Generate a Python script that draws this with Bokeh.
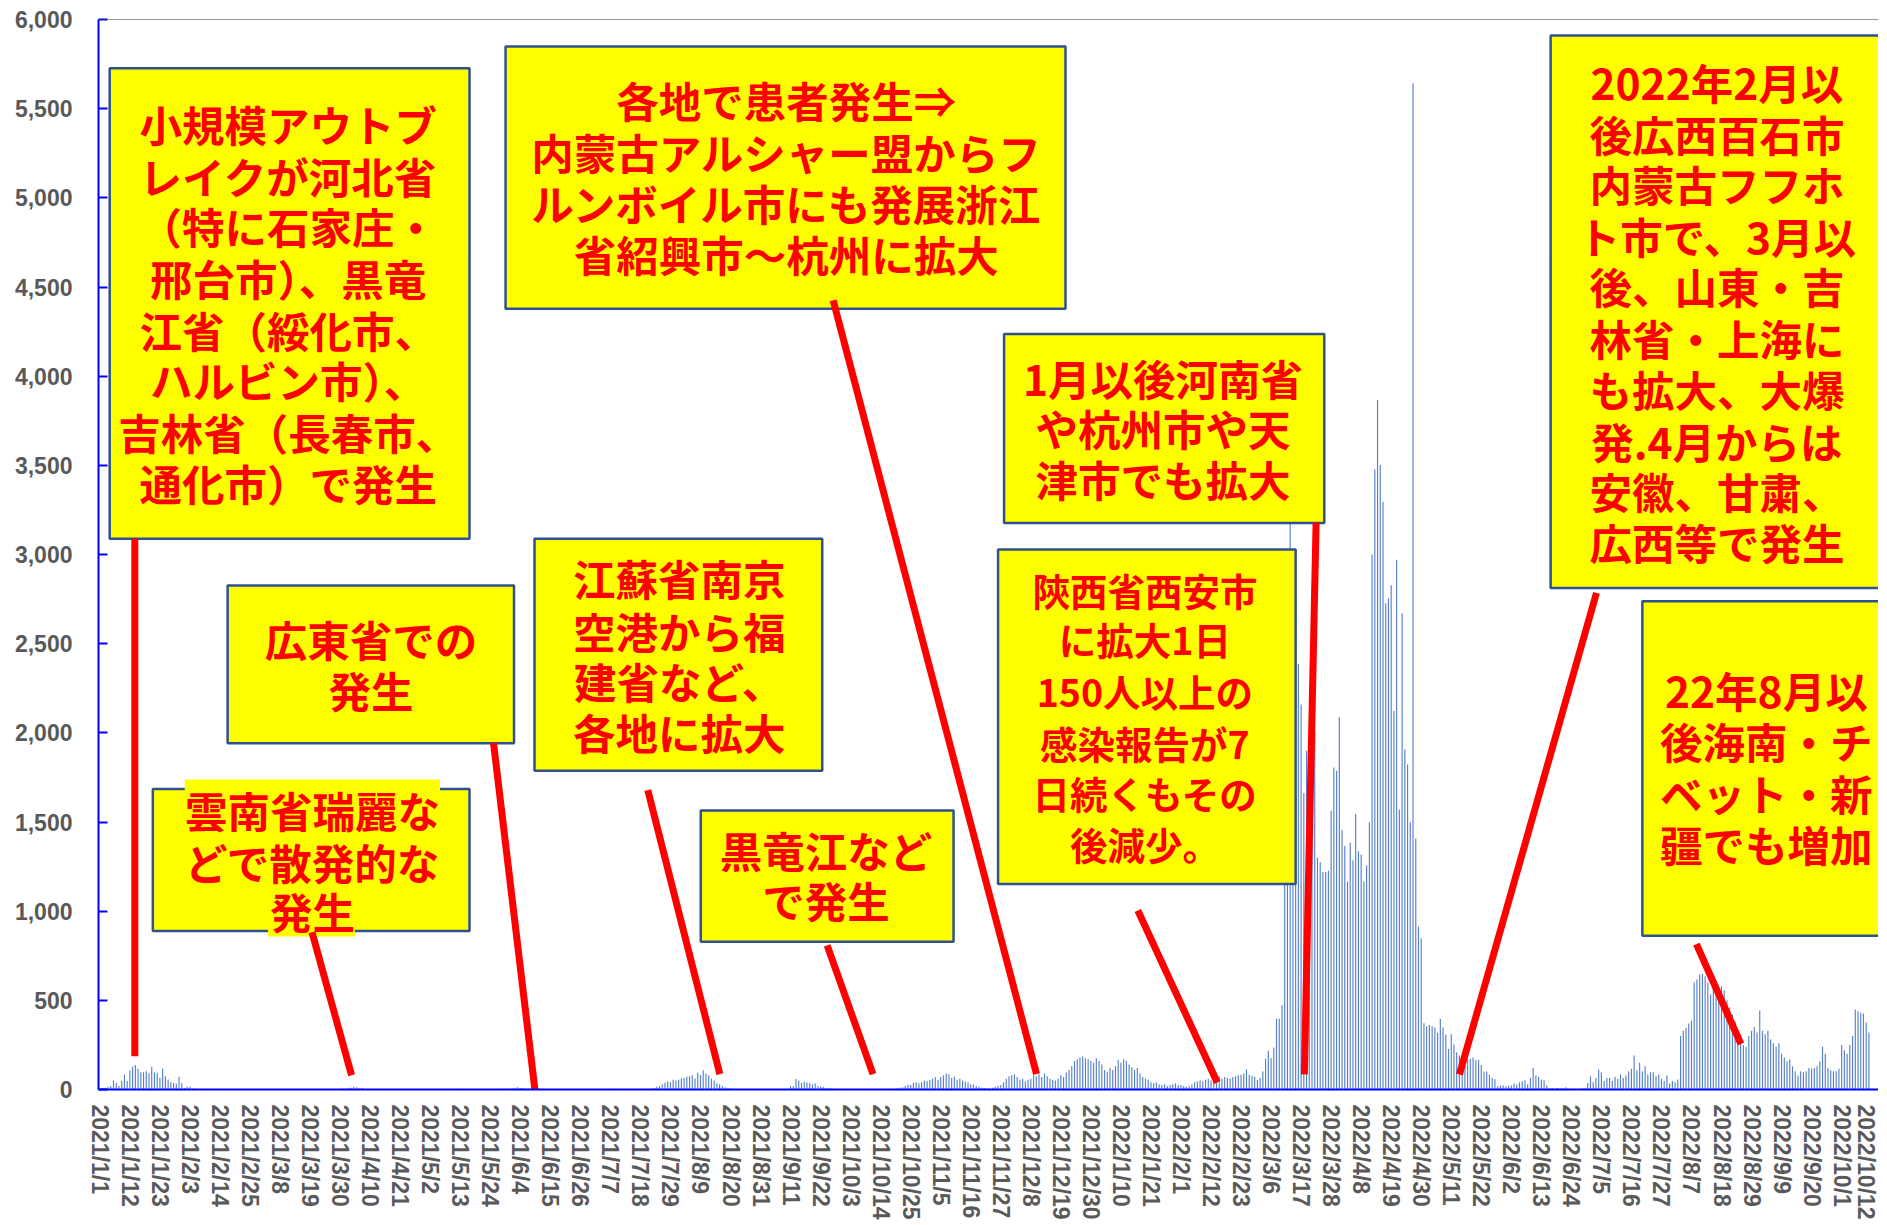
import datetime as dt
from bokeh.plotting import figure
from bokeh.models import Range1d, FixedTicker, NumeralTickFormatter, Span
from bokeh.core.properties import value
from bokeh.embed import file_html
from bokeh.resources import INLINE

# ---------------- data (daily reported cases) ----------------
start_date = dt.date(2021, 1, 1)

jan21 = [4, 7, 9, 15, 19, 50, 37, 19, 47, 84, 47, 107, 127, 137, 116, 97, 97, 103, 90, 127, 97, 94, 65, 118, 75, 56, 41, 37, 34, 71, 37]
feb21 = [9, 15, 15, 6, 4, 2, 1, 0, 1, 0, 1, 0, 0, 0, 0, 0, 0, 0, 0, 0, 0, 0, 0, 0, 0, 0, 0, 0]
mar21 = [0, 0, 0, 0, 0, 0, 0, 0, 0, 0, 0, 0, 0, 0, 1, 0, 0, 0, 0, 0, 0, 0, 0, 0, 0, 0, 0, 0, 0, 4, 5]
apr21 = [6, 8, 10, 15, 12, 5, 8, 3, 2, 3, 2, 1, 1, 1, 0, 0, 0, 0, 0, 0, 0, 0, 0, 0, 0, 0, 0, 0, 0, 0]
may21 = [0, 0, 0, 0, 0, 0, 0, 0, 0, 0, 0, 0, 3, 4, 3, 2, 0, 0, 0, 0, 1, 2, 3, 3, 1, 2, 3, 5, 4, 6, 3]
jun21 = [6, 10, 12, 9, 8, 6, 5, 4, 7, 6, 5, 4, 3, 3, 2, 2, 2, 1, 3, 2, 2, 3, 2, 1, 1, 2, 3, 2, 1, 2]
jul21 = [1, 2, 1, 2, 3, 2, 4, 3, 2, 1, 1, 0, 1, 2, 1, 1, 1, 2, 1, 1, 3, 5, 8, 15, 20, 30, 38, 45, 40, 55, 50]
aug21 = [55, 61, 65, 71, 75, 80, 62, 94, 81, 108, 90, 80, 60, 50, 35, 30, 20, 12, 10, 6, 4, 3, 2, 1, 0, 0, 0, 1, 0, 0, 0]
sep21 = [0, 0, 0, 0, 0, 0, 0, 0, 0, 1, 19, 20, 59, 50, 36, 45, 40, 35, 30, 34, 20, 18, 15, 10, 8, 6, 5, 3, 2, 1]
oct21 = [1, 0, 0, 0, 0, 0, 0, 0, 0, 0, 0, 0, 0, 0, 0, 0, 1, 3, 4, 6, 10, 13, 20, 28, 25, 38, 40, 35, 40, 50, 48]
nov21 = [53, 60, 68, 55, 70, 80, 90, 85, 65, 72, 55, 60, 50, 45, 40, 30, 28, 20, 15, 10, 8, 5, 6, 10, 15, 20, 25, 40, 60, 75]
dec21 = [80, 85, 70, 55, 60, 45, 55, 60, 80, 75, 85, 70, 90, 75, 60, 55, 50, 60, 80, 70, 95, 110, 130, 160, 170, 180, 185, 175, 170, 160, 150]
jan22 = [175, 160, 140, 110, 100, 120, 110, 130, 165, 150, 170, 160, 140, 125, 110, 120, 90, 70, 60, 55, 40, 35, 40, 30, 25, 30, 20, 25, 30, 35, 25]
feb22 = [25, 20, 15, 20, 30, 40, 45, 50, 45, 55, 60, 50, 65, 70, 75, 60, 70, 65, 60, 70, 75, 80, 83, 90, 112, 83, 76, 72]
mar22 = [54, 65, 101, 173, 217, 177, 235, 397, 397, 473, 1250, 1700, 3300, 1900, 1227, 2386, 2159, 1661, 1900, 1700,
         1400, 2007, 1300, 1274, 1220, 1220, 1227, 1563, 1805, 1787, 2087]
apr22 = [1455, 1365, 1166, 1383, 1285, 1545, 1336, 1318, 1166, 1256, 1498, 3000, 3476, 3866, 3502, 3296, 2726, 2754,
         2827, 2123, 2971, 1570, 2671, 1906, 1823, 1498, 5642, 1408, 913, 848]
may22 = [372, 354, 361, 354, 347, 318, 397, 347, 307, 227, 310, 253, 209, 190, 173, 155, 173, 173, 180, 166, 166, 137,
         101, 101, 83, 65, 58, 18, 22, 22, 18]
jun22 = [21, 22, 34, 28, 41, 45, 52, 30, 65, 121, 79, 71, 56, 52, 22, 9, 9, 6, 9, 7, 9, 13, 4, 4, 4, 2, 4, 7, 9, 37]
jul22 = [75, 41, 65, 112, 97, 47, 65, 65, 47, 71, 60, 84, 65, 79, 103, 116, 190, 108, 150, 103, 131, 84, 97, 97, 75, 84,
         60, 47, 79, 34, 47]
aug22 = [41, 56, 300, 330, 345, 370, 385, 600, 617, 645, 649, 635, 600, 533, 579, 560, 540, 579, 555, 500, 460, 420,
         380, 300, 280, 250, 240, 300, 330, 350, 320]
sep22 = [443, 330, 310, 330, 280, 260, 240, 260, 200, 180, 160, 170, 131, 103, 79, 103, 97, 103, 121, 116, 121, 131,
         159, 240, 200, 121, 108, 103, 103, 116]
oct22 = [250, 220, 200, 250, 300, 449, 439, 430, 426, 376, 320, 0, 0, 0]

months = [jan21, feb21, mar21, apr21, may21, jun21, jul21, aug21, sep21, oct21, nov21, dec21,
          jan22, feb22, mar22, apr22, may22, jun22, jul22, aug22, sep22, oct22]
cases = [v for m in months for v in m]
day_index = list(range(len(cases)))
dates = [start_date + dt.timedelta(days=i) for i in day_index]

tick_step = 11
tick_positions = day_index[::tick_step]
tick_labels = {i: f"{dates[i].year}/{dates[i].month}/{dates[i].day}" for i in tick_positions}

y_ticks = [0, 500, 1000, 1500, 2000, 2500, 3000, 3500, 4000, 4500, 5000, 5500, 6000]

# ---------------- annotations (positions in axis units) ----------------
BIG = "42.5px"
SMALL = "37.5px"
notes = [
    dict(box=(3.6, 135.4, 3089, 5727), cx=69.0,
         lines=["小規模アウトブ", "レイクが河北省", "（特に石家庄・", "邢台市）、黒竜", "江省（綏化市、",
                "ハルビン市）、", "吉林省（長春市、", "通化市）で発生"],
         ys=[5417, 5127, 4843, 4553, 4263, 3980, 3690, 3406], size=BIG),
    dict(box=(46.8, 151.7, 1942, 2826), cx=99.3, lines=["広東省での", "発生"], ys=[2529, 2245], size=BIG),
    dict(box=(19.4, 135.4, 889, 1685), cx=77.9, lines=["雲南省瑞麗な", "どで散発的な", "発生"],
         ys=[1571, 1280, 1004], size=BIG),
    dict(box=(159.2, 264.6, 1787, 3089), cx=212.2, lines=["江蘇省南京", "空港から福", "建省など、", "各地に拡大"],
         ys=[2873, 2576, 2293, 2009], size=BIG),
    dict(box=(220.1, 312.7, 828, 1564), cx=266.0, lines=["黒竜江など", "で発生"], ys=[1348, 1064], size=BIG),
    dict(box=(148.6, 353.7, 4378, 5849), cx=251.4,
         lines=["各地で患者発生⇒", "内蒙古アルシャー盟からフ", "ルンボイル市にも発展浙江", "省紹興市～杭州に拡大"],
         ys=[5552, 5262, 4972, 4688], size=BIG),
    dict(box=(331.2, 448.5, 3177, 4236), cx=389.4, lines=["1月以後河南省", "や杭州市や天", "津市でも拡大"],
         ys=[3993, 3710, 3426], size=BIG),
    dict(box=(329.0, 438.0, 1152, 3028), cx=382.8,
         lines=["陝西省西安市", "に拡大1日", "150人以上の", "感染報告が7", "日続くもその", "後減少。"],
         ys=[2805, 2529, 2239, 1948, 1665, 1382], size=SMALL),
    dict(box=(531.4, 653.2, 2812, 5910), cx=592.3,
         lines=["2022年2月以", "後広西百石市", "内蒙古フフホ", "ト市で、3月以", "後、山東・吉", "林省・上海に",
                "も拡大、大爆", "発.4月からは", "安徽、甘粛、", "広西等で発生"],
         ys=[5653, 5363, 5080, 4789, 4506, 4216, 3932, 3642, 3359, 3075], size=BIG),
    dict(box=(565.0, 654.5, 862, 2738), cx=610.4, lines=["22年8月以", "後海南・チ", "ベット・新", "疆でも増加"],
         ys=[2245, 1955, 1665, 1382], size=BIG),
]
highlights = [(31.1, 124.6, 1600, 1738), (61.6, 93.4, 858, 950)]
pointers = [
    (12.8, 3089, 12.8, 187),
    (77.7, 882, 92.2, 80),
    (144.2, 1942, 159.7, -45),
    (200.7, 1679, 227.1, 86),
    (266.4, 808, 283.2, 86),
    (268.6, 4425, 343.1, 86),
    (445.5, 3179, 441.2, 85),
    (380.2, 1004, 409.3, 39),
    (548.2, 2785, 498.0, 84),
    (584.8, 815, 601.1, 255),
]

# ---------------- figure ----------------
p = figure(frame_width=1780, frame_height=1070, output_backend="svg", toolbar_location=None,
           x_range=Range1d(-0.5, len(cases) - 0.5), y_range=Range1d(0, 6000),
           min_border_left=98, min_border_right=0, min_border_top=19, min_border_bottom=0)
p.outline_line_color = None
p.background_fill_color = "white"
p.xgrid.grid_line_color = None
p.ygrid.grid_line_color = None

p.vbar(x=day_index, top=cases, width=0.42, fill_color="#4472C4", line_color=None, fill_alpha=0.9)

p.add_layout(Span(location=6000, dimension="width", line_color="#1F3864", line_width=1))

# y axis
p.yaxis.ticker = FixedTicker(ticks=y_ticks)
p.yaxis.formatter = NumeralTickFormatter(format="0,0")
p.yaxis.axis_line_color = "#0000FF"
p.yaxis.axis_line_width = 2
p.yaxis.major_tick_line_color = "#0000FF"
p.yaxis.major_tick_line_width = 2
p.yaxis.major_tick_in = 9
p.yaxis.major_tick_out = 0
p.yaxis.minor_tick_line_color = None
p.yaxis.major_label_standoff = 26
p.yaxis.major_label_text_font = "Liberation Sans"
p.yaxis.major_label_text_font_style = "bold"
p.yaxis.major_label_text_font_size = "23px"
p.yaxis.major_label_text_color = "#595959"

# x axis
p.xaxis.ticker = FixedTicker(ticks=tick_positions)
p.xaxis.major_label_overrides = tick_labels
p.xaxis.major_label_orientation = "vertical"
p.xaxis.axis_line_color = "#0000FF"
p.xaxis.axis_line_width = 2
p.xaxis.major_tick_line_color = None
p.xaxis.minor_tick_line_color = None
p.xaxis.major_tick_in = 0
p.xaxis.major_tick_out = 0
p.xaxis.major_label_standoff = 15
p.xaxis.major_label_text_font = "Liberation Sans"
p.xaxis.major_label_text_font_style = "bold"
p.xaxis.major_label_text_font_size = "23px"
p.xaxis.major_label_text_color = "#595959"

# boxes
p.quad(left=[n["box"][0] for n in notes], right=[n["box"][1] for n in notes],
       bottom=[n["box"][2] for n in notes], top=[n["box"][3] for n in notes],
       fill_color="#FFFF00", line_color="#2F528F", line_width=2.5)
p.quad(left=[h[0] for h in highlights], right=[h[1] for h in highlights],
       bottom=[h[2] for h in highlights], top=[h[3] for h in highlights],
       fill_color="#FFFF00", line_color=None)

for n in notes:
    p.text(x=[n["cx"]] * len(n["lines"]), y=n["ys"], text=n["lines"],
           text_font=value("Noto Sans CJK JP"), text_font_style="bold", text_font_size=n["size"],
           text_color="#FF0000", text_align="center", text_baseline="middle")

p.segment(x0=[s[0] for s in pointers], y0=[s[1] for s in pointers],
          x1=[s[2] for s in pointers], y1=[s[3] for s in pointers],
          line_color="#FF0000", line_width=7)

open("out.html", "w").write(file_html(p, INLINE))
